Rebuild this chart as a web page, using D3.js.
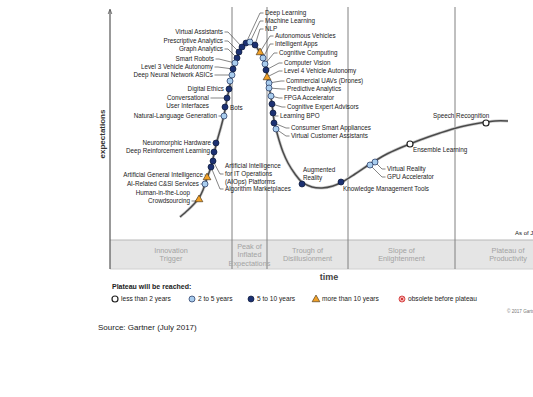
<!DOCTYPE html>
<html><head><meta charset="utf-8">
<script src="https://cdn.jsdelivr.net/npm/d3@7"></script>
<style>body{margin:0;background:#fff}svg{display:block}text{font-family:"Liberation Sans",Arial,sans-serif}</style>
</head><body><svg width="533" height="397"></svg>
<script>
// ---- data ----
const curveTime   = [70,78,84,89,93,97,101,104,107,111,114,117,120,123,126,129,132,136,140,145,149,153,156,158,160,162,164,166,169,173,178,185,192,202,212,223,232,245,260,275,290,310,330,350,370,385,398];
const curveExpect = [23,30,36,42,50,62,73,86,99,113,125,141,155,169,180,187,193,197,198,195,189,182,171,160,148,136,120,111,100,88,77,66,58,53,52,54,58,66,76,85,92,100,107,113,117,119,119];

const techNames = ["Deep Learning","Machine Learning","NLP","Virtual Assistants","Prescriptive Analytics","Graph Analytics","Smart Robots","Level 3 Vehicle Autonomy","Deep Neural Network ASICs","","Digital Ethics","Conversational\nUser Interfaces","Bots","Natural-Language Generation","Neuromorphic Hardware","Deep Reinforcement Learning","Artificial Intelligence\nfor IT Operations\n(AIOps) Platforms","Algorithm Marketplaces","Artificial General Intelligence","AI-Related C&SI Services","Human-in-the-Loop\nCrowdsourcing","Autonomous Vehicles","Intelligent Apps","Cognitive Computing","Computer Vision","Level 4 Vehicle Autonomy","Commercial UAVs (Drones)","Predictive Analytics","FPGA Accelerator","Cognitive Expert Advisors","Learning BPO","Consumer Smart Appliances","Virtual Customer Assistants","Augmented\nReality","Knowledge Management Tools","Virtual Reality","GPU Accelerator","Ensemble Learning","Speech Recognition"];
const techTime   = [136,140,145,132,129,127,125,123,122,120,119,117,115,114,106,104,103,101,97,95,89,150,153,155,156,157,159,159,161,162,163,164,166,192,231,265,260,300,376];
const techExpect = [197,198,195,193,188,182,177,171,165,159,151,142,133,124,97,88,79,73,63,56,41,188,182,176,170,163,157,152,144,136,127,117,111,56,58,78,75,96,117];
const techPlateau = ["5to10","2to5","5to10","5to10","5to10","5to10","2to5","5to10","2to5","2to5","5to10","5to10","5to10","2to5","5to10","5to10","5to10","5to10","gt10","2to5","gt10","gt10","2to5","2to5","5to10","gt10","2to5","2to5","2to5","5to10","5to10","5to10","2to5","5to10","5to10","2to5","2to5","lt2","lt2"];

const phaseNames = ["Innovation\nTrigger","Peak of\nInflated\nExpectations","Trough of\nDisillusionment","Slope of\nEnlightenment","Plateau of\nProductivity"];
const phaseBounds = [0,122,157,238,345,451];

const legendKeys = ["lt2","2to5","5to10","gt10","obs"];
const legendLabels = ["less than 2 years","2 to 5 years","5 to 10 years","more than 10 years","obsolete before plateau"];

// ---- layout (label anchors in data units) ----
// [time, expectation, anchor, leader line index (-1 none)]
const labelLayout = [
 [155,227,"start",0],[155,219,"start",0],[155,211,"start",0],
 [113,208,"end",0],[113,199,"end",0],[113,191,"end",0],[104,181,"end",0],[103,173,"end",0],[103,165,"end",0],
 null,
 [114,151,"end",-1],[99,142,"end",0],[120,132,"start",-1],[107,124,"end",0],
 [101,97,"end",0],[100,89,"end",0],[115,74,"start",1],[115,51,"start",0],
 [93,65,"end",0],[89,56,"end",0],[80,47,"end",1],
 [165,204,"start",0],[165,196,"start",0],[169,187,"start",0],[174,177,"start",0],[174,169,"start",0],
 [176,159,"start",0],[177,151,"start",0],[174,142,"start",0],[177,133,"start",0],[170,124,"start",0],
 [181,112,"start",0],[181,104,"start",0],
 [193,70,"start",-1],[233,51,"start",-1],[277,71,"start",0],[277,63,"start",0],[303,90,"start",-1],[323,124,"start",-1]
];

const W = 533, H = 397;
const svg = d3.select("svg");
const x = d3.scaleLinear().domain([0,423]).range([110,533]);
const y = d3.scaleLinear().domain([0,232]).range([240,8]);

// band
svg.append("rect").attr("x", x(0)).attr("y", y(0)).attr("width", W - x(0)).attr("height", y(-29) - y(0))
  .attr("fill", "#e5e5e5");
svg.append("line").attr("x1", x(0)).attr("x2", W).attr("y1", y(0)).attr("y2", y(0)).attr("stroke", "#b8b8b8");
svg.append("line").attr("x1", x(0)).attr("x2", W).attr("y1", y(-29)).attr("y2", y(-29)).attr("stroke", "#d0d0d0");

// phase separators
svg.selectAll("line.sep").data(phaseBounds.slice(1, -1)).join("line").attr("class","sep")
  .attr("x1", d => x(d)).attr("x2", d => x(d)).attr("y1", y(233)).attr("y2", y(-29))
  .attr("stroke", "#808080").attr("stroke-width", 1);

// phase labels
phaseNames.forEach((n, i) => {
  const lines = n.split("\n");
  const cx = x((phaseBounds[i] + phaseBounds[i+1]) / 2);
  const cy = y(-14.5);
  const t = svg.append("text").attr("text-anchor","middle").attr("font-size", 7.3).attr("fill", "#a3a3a3");
  lines.forEach((l, j) => {
    t.append("tspan").attr("x", cx).attr("y", cy + (j - (lines.length - 1) / 2) * 8.6 + 2.6).text(l);
  });
});

// y axis
svg.append("line").attr("x1", x(0)).attr("x2", x(0)).attr("y1", y(230)).attr("y2", y(-29))
  .attr("stroke", "#555").attr("stroke-width", 1.2);
svg.append("path").attr("d", `M${x(0)-1.8},${y(226)} L${x(0)},${y(231)} L${x(0)+1.8},${y(226)}`)
  .attr("fill","none").attr("stroke","#555").attr("stroke-width",0.8);
svg.append("text").attr("transform", `translate(105,${y(106)}) rotate(-90)`).attr("text-anchor","middle")
  .attr("font-size", 8).attr("font-weight","bold").attr("fill","#333").text("expectations");

// curve
const pts = curveTime.map((t, i) => [t, curveExpect[i]]);
const line = d3.line().x(d => x(d[0])).y(d => y(d[1])).curve(d3.curveCatmullRom.alpha(0.5));
svg.append("path").attr("d", line(pts)).attr("fill","none").attr("stroke","#cfcfcf").attr("stroke-width",3);
svg.append("path").attr("d", line(pts)).attr("fill","none").attr("stroke","#4a4a4a").attr("stroke-width",1.5);

// leaders + labels
const LH = 8;
techNames.forEach((n, i) => {
  const L = labelLayout[i];
  if (!L || !n) return;
  const tx = x(L[0]), ty = y(L[1]);
  const lines = n.split("\n");
  if (L[3] >= 0) {
    const ay = ty + L[3] * LH;
    const s = L[2] === "end" ? 1 : -1;
    const dx = x(techTime[i]), dy = y(techExpect[i]);
    svg.append("path").attr("d", `M${tx + s*1.5},${ay} L${tx + s*5},${ay} L${dx},${dy}`)
      .attr("fill","none").attr("stroke","#333").attr("stroke-width",0.6);
  }
  const t = svg.append("text").attr("text-anchor", L[2]).attr("font-size", 6.3).attr("fill", "#222");
  lines.forEach((l, j) => t.append("tspan").attr("x", tx).attr("y", ty + j * LH + 2.2).text(l));
});

// symbols
function drawSymbol(g, key, cx, cy) {
  if (key === "gt10") {
    g.append("path").attr("d", d3.symbol(d3.symbolTriangle, 26)()).attr("transform", `translate(${cx},${cy+0.5})`)
      .attr("fill", "#f0a028").attr("stroke", "#3a2a10").attr("stroke-width", 0.6);
  } else if (key === "lt2") {
    g.append("circle").attr("cx", cx).attr("cy", cy).attr("r", 3).attr("fill", "#fff").attr("stroke", "#222").attr("stroke-width", 1.2);
  } else if (key === "2to5") {
    g.append("circle").attr("cx", cx).attr("cy", cy).attr("r", 3).attr("fill", "#a9cdee").attr("stroke", "#1d2f5c").attr("stroke-width", 0.7);
  } else if (key === "5to10") {
    g.append("circle").attr("cx", cx).attr("cy", cy).attr("r", 3).attr("fill", "#1c3172").attr("stroke", "#0c1838").attr("stroke-width", 0.7);
  } else {
    g.append("circle").attr("cx", cx).attr("cy", cy).attr("r", 3).attr("fill", "#f6b4b4").attr("stroke", "#d02a2a").attr("stroke-width", 0.8);
    g.append("path").attr("d", `M${cx-1.4},${cy-1.4}L${cx+1.4},${cy+1.4}M${cx+1.4},${cy-1.4}L${cx-1.4},${cy+1.4}`)
      .attr("stroke", "#d02a2a").attr("stroke-width", 0.9);
  }
}
const dots = svg.append("g");
techNames.forEach((n, i) => drawSymbol(dots, techPlateau[i], x(techTime[i]), y(techExpect[i])));

// texts
svg.append("text").attr("x", 329).attr("y", 280).attr("text-anchor","middle").attr("font-size", 9)
  .attr("font-weight","bold").attr("fill","#444").text("time");
svg.append("text").attr("x", 515).attr("y", 235).attr("font-size", 6).attr("fill","#222").text("As of July 2017");
svg.append("text").attr("x", 112).attr("y", 288.5).attr("font-size", 7).attr("font-weight","bold").attr("fill","#222").text("Plateau will be reached:");

const legX = [115, 192, 251, 316, 402];
const lg = svg.append("g");
legendKeys.forEach((k, i) => {
  drawSymbol(lg, k, legX[i], 299);
  lg.append("text").attr("x", legX[i] + 6).attr("y", 301.3).attr("font-size", 6.6).attr("fill","#222").text(legendLabels[i]);
});
svg.append("text").attr("x", 507).attr("y", 312.5).attr("font-size", 4.6).attr("fill","#777").text("© 2017 Gartner, Inc.");
svg.append("text").attr("x", 98).attr("y", 330).attr("font-size", 8).attr("fill","#222").text("Source: Gartner (July 2017)");
</script>
</body></html>
